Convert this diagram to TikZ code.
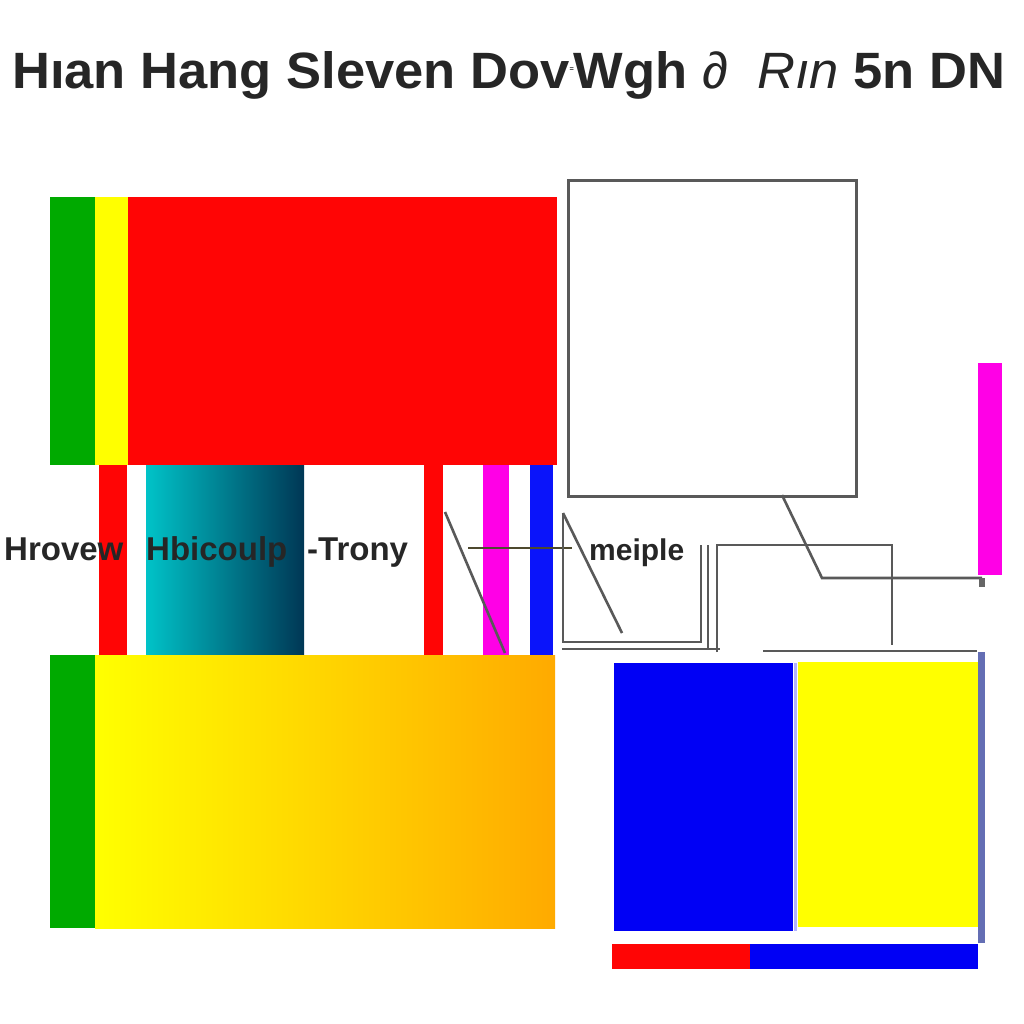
\documentclass[tikz,border=0pt]{standalone}
\usepackage{fontspec}
\setmainfont{Liberation Sans}
\begin{document}
\begin{tikzpicture}[x=1pt,y=-1pt,
  ln/.style={draw=black!65,line width=2.6pt},
  lbl/.style={font=\fontsize{33}{33}\selectfont\bfseries,text=black!85,inner sep=0pt,anchor=base west},
  bar/.style={draw=none}]
\definecolor{myred}{RGB}{255,5,5}
\definecolor{mygreen}{RGB}{0,170,0}
\definecolor{myyellow}{RGB}{255,255,0}
\definecolor{mymag}{RGB}{255,0,230}
\definecolor{myblue}{RGB}{10,20,250}
\definecolor{myblue2}{RGB}{0,0,245}
\definecolor{myorange}{RGB}{255,170,0}
\definecolor{tealL}{RGB}{0,195,200}
\definecolor{tealR}{RGB}{0,55,85}
\definecolor{slate}{RGB}{100,110,180}
\useasboundingbox[fill=white] (0,0) rectangle (1024,1024);
% title
\node[anchor=base west,inner sep=0pt,text=black!85] (title) at (12,89)
  {\resizebox{993pt}{37pt}{\fontsize{50}{50}\selectfont\bfseries Hıan Hang Sleven Dov\raisebox{0.35em}{\scriptsize =}Wgh \textit{\mdseries ∂~ Rın} 5n DN}};
% top block
\fill[mygreen] (50,197) rectangle (95,465);
\fill[myyellow] (95,197) rectangle (128,465);
\fill[myred] (128,197) rectangle (557,465);
% middle bars
\fill[myred] (99,465) rectangle (127,655);
\shade[left color=tealL,right color=tealR] (146,465) rectangle (304,655);
\fill[myred] (424,465) rectangle (443,655);
\fill[mymag] (483,465) rectangle (509,655);
\fill[myblue] (530,465) rectangle (553,655);
% bottom block
\fill[mygreen] (50,655) rectangle (95,928);
\shade[left color=myyellow,middle color=myyellow!92!myorange,right color=myorange] (95,655) rectangle (555,928);
% labels
\node[lbl] (l1) at (4,560) {Hrovew};
\node[lbl] (l2) at (146,560) {Hbicoulp};
\node[lbl] (l3) at (307,560) {-Trony};
\node[lbl,font=\fontsize{30}{30}\selectfont\bfseries] (l4) at (589,560) {meiple};
% top right box
\node[draw=black!65,line width=2.6pt,minimum width=288pt,minimum height=316pt,anchor=north west,inner sep=0pt] (box) at (567,179) {};
% connectors
\coordinate (a1) at (445,512); \coordinate (a2) at (505,653);
\draw[ln] (a1) -- (a2);
\coordinate (h1) at (468,548); \coordinate (h2) at (572,548);
\draw[ln,draw=black!60!olive] (h1) -- (h2);
\coordinate (d1) at (782,495); \coordinate (d2) at (822,578); \coordinate (d3) at (982,578);
\draw[ln] (d1) -- (d2) -- (d3);
\fill[black!60] (979,578) rectangle (985,587);
\fill[mymag] (978,363) rectangle (1002,575);
% meiple box
\coordinate (m1) at (563,513); \coordinate (m2) at (622,633);
\draw[ln] (m1) -- (m2);
\draw[ln] (563,513) -- (563,642) -- (701,642) -- (701,545);
\draw[ln,line width=1.6pt] (708,545) -- (708,650);
\draw[ln] (717,652) -- (717,545) -- (892,545) -- (892,645);
\draw[ln] (562,649) -- (720,649);
\draw[ln] (763,651) -- (977,651);
% bottom right
\fill[myblue2] (614,663) rectangle (793,931);
\fill[blue!30] (794,663) rectangle (797,931);
\fill[myyellow] (798,662) rectangle (978,927);
\fill[slate] (978,652) rectangle (985,943);
\fill[myred] (612,944) rectangle (750,969);
\fill[myblue2] (750,944) rectangle (978,969);
\end{tikzpicture}
\end{document}
